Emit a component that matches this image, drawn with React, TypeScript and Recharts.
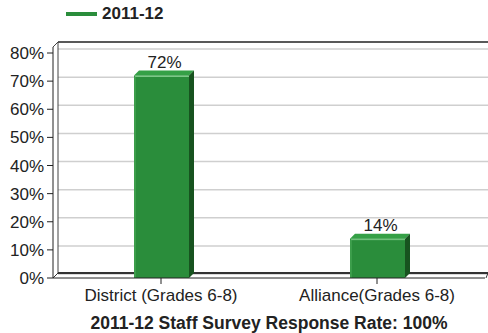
import { Bar, BarChart, CartesianGrid, LabelList, Legend, XAxis, YAxis } from "recharts";

const categories = ["District (Grades 6-8)", "Alliance(Grades 6-8)"];
const rate201112 = [72, 14];
const yTicks = [0, 10, 20, 30, 40, 50, 60, 70, 80];
const seriesName = "2011-12";
const chartTitle = "2011-12 Staff Survey Response Rate: 100%";

const W = 488;
const H = 333;
const M = { top: 53, right: 3, bottom: 0, left: 0 };
const Y_AXIS_W = 53;
const X_AXIS_H = 55;
const DEPTH = 5;
const FONT = "'Liberation Sans', Arial, sans-serif";
const FS = 17;

const GREEN = "#2a8d3b";
const GREEN_TOP = "#35a046";
const GREEN_SIDE = "#17531f";

const data = categories.map((name, i) => ({ name, value: rate201112[i] }));

function Bar3D(props: any) {
  const { x, y, width, height } = props;
  const d = DEPTH;
  return (
    <g>
      <rect x={x} y={y} width={width} height={height} fill={GREEN} />
      <polygon
        points={`${x},${y} ${x + width},${y} ${x + width + d},${y - d} ${x + d},${y - d}`}
        fill={GREEN_TOP}
      />
      <polygon
        points={`${x + width},${y} ${x + width + d},${y - d} ${x + width + d},${y + height - d} ${x + width},${y + height}`}
        fill={GREEN_SIDE}
      />
      <line x1={x + 1} y1={y + 1} x2={x + width} y2={y + 1} stroke="#7cc886" strokeWidth={1} />
      <line x1={x + 1} y1={y + 1} x2={x + 1} y2={y + height} stroke="#4fae5c" strokeWidth={1} />
    </g>
  );
}

function Frame() {
  const left = M.left + Y_AXIS_W;
  const right = W - M.right;
  const top = M.top;
  const bottom = H - M.bottom - X_AXIS_H;
  const d = DEPTH;
  const wallTop = top - 11;
  return (
    <g>
      <line x1={left + d} y1={wallTop} x2={W} y2={wallTop} stroke="#222" strokeWidth={1.5} />
      <line x1={left + d} y1={wallTop} x2={left + d} y2={bottom - d} stroke="#444" strokeWidth={1} />
      <line x1={left} y1={wallTop + d} x2={left + d} y2={wallTop} stroke="#444" strokeWidth={1} />
      <line x1={left} y1={wallTop + d} x2={left} y2={top} stroke="#222" strokeWidth={1} />
      <line x1={left + d} y1={bottom - d} x2={W} y2={bottom - d} stroke="#333" strokeWidth={2} />
      <line x1={left} y1={bottom} x2={left + d} y2={bottom - d} stroke="#333" strokeWidth={1} />
      <line x1={right + 1} y1={bottom} x2={W} y2={bottom - d} stroke="#333" strokeWidth={1} />
    </g>
  );
}

function LegendContent() {
  return (
    <div style={{ display: "flex", alignItems: "center", fontFamily: FONT, fontSize: FS, fontWeight: "bold", color: "#222" }}>
      <span style={{ display: "inline-block", width: 31, height: 4, background: GREEN, marginRight: 5 }} />
      <span>{seriesName}</span>
    </div>
  );
}

function renderGridLine(p: any) {
  return (
    <line
      key={p.key}
      x1={p.x1 + DEPTH}
      y1={p.y1 - 4}
      x2={W}
      y2={p.y2 - 4}
      stroke="#cfcfcf"
      strokeWidth={1.5}
    />
  );
}

function renderValueLabel(p: any) {
  const { x, y, width, value } = p;
  return (
    <text
      x={x + width / 2 + 3}
      y={y - 8}
      textAnchor="middle"
      fontFamily={FONT}
      fontSize={FS}
      fill="#222"
    >
      {`${value}%`}
    </text>
  );
}

export default function App() {
  return (
    <div style={{ position: "absolute", left: 0, top: 0, width: W, height: H, background: "#fff" }}>
      <BarChart width={W} height={H} data={data} margin={M} barSize={55}>
        <CartesianGrid vertical={false} horizontal={renderGridLine} />
        <Frame />
        <XAxis
          dataKey="name"
          height={X_AXIS_H}
          axisLine={{ stroke: "#222", strokeWidth: 1 }}
          tickLine={{ stroke: "#222" }}
          tickSize={6}
          tickMargin={5}
          tick={{ fontFamily: FONT, fontSize: FS, fill: "#222" }}
          interval={0}
          label={{
            value: chartTitle,
            position: "insideBottom",
            offset: 4,
            fontFamily: FONT,
            fontSize: 17.5,
            fontWeight: "bold",
            fill: "#222"
          }}
        />
        <YAxis
          width={Y_AXIS_W}
          domain={[0, 80]}
          ticks={yTicks}
          tickFormatter={(v) => `${v}%`}
          axisLine={{ stroke: "#222", strokeWidth: 1 }}
          tickLine={{ stroke: "#222" }}
          tickSize={6}
          tickMargin={3}
          tick={{ fontFamily: FONT, fontSize: FS, fill: "#222" }}
          interval={0}
        />
        <Legend
          layout="horizontal"
          verticalAlign="middle"
          align="center"
          content={<LegendContent />}
          wrapperStyle={{ top: 4, left: 66, width: "auto", height: "auto" }}
        />
        <Bar dataKey="value" name={seriesName} fill={GREEN} shape={<Bar3D />} isAnimationActive={false}>
          <LabelList dataKey="value" content={renderValueLabel} />
        </Bar>
      </BarChart>
    </div>
  );
}
